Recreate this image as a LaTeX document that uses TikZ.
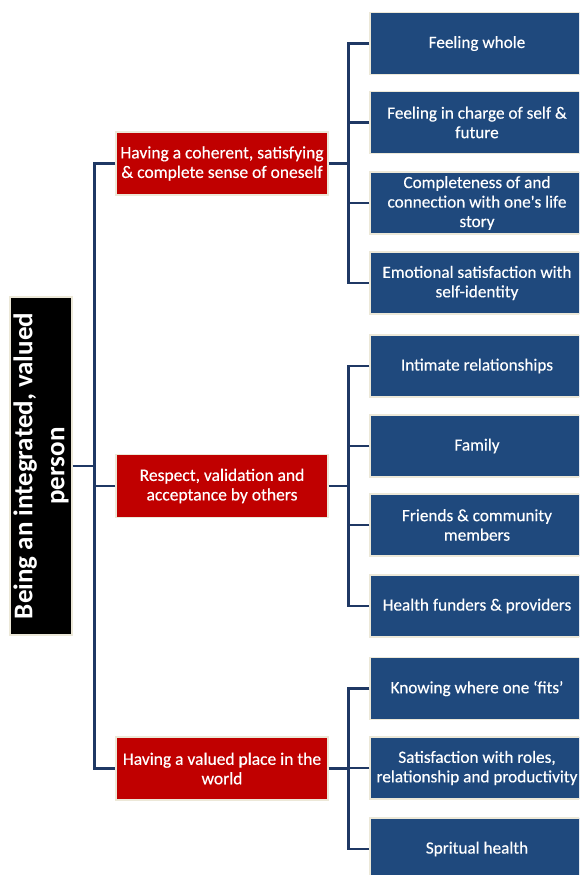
\documentclass[tikz,border=0pt]{standalone}
\usepackage{fontspec}
\setmainfont{Carlito}
\newfontfamily\boxfont{Carlito}[FakeBold=0.35]
\definecolor{boxblue}{RGB}{31,73,125}
\definecolor{boxred}{RGB}{192,0,0}
\definecolor{rim}{RGB}{236,232,216}
\definecolor{conncol}{RGB}{31,56,100}
\begin{document}
\begin{tikzpicture}[x=1pt,y=-1pt,
  base/.style={draw=rim, line width=1.2pt, text=white, align=center, inner sep=2pt},
  rootbox/.style={base, fill=black, rotate=90, minimum width=338pt, minimum height=62pt,
    font=\fontsize{27}{32}\selectfont\bfseries},
  redbox/.style={base, fill=boxred, minimum width=212pt, minimum height=63pt,
    font=\boxfont\fontsize{17.5}{19.5}\selectfont},
  bluebox/.style={base, fill=boxblue, minimum width=214pt, minimum height=62pt,
    font=\boxfont\fontsize{17.2}{19.5}\selectfont},
  conn/.style={draw=conncol, line width=2.2pt}]
\path[use as bounding box] (0,0) rectangle (579,875);
\clip (0,0) rectangle (579,875);

\node[rootbox] (root) at (41,466) {Being an integrated, valued\\person};

\node[redbox] (r1) at (222,163.5) {Having a coherent, satisfying\\\& complete sense of oneself};
\node[redbox] (r2) at (222,486) {Respect, validation and\\acceptance by others};
\node[redbox] (r3) at (222,768.5) {Having a valued place in the\\world};

\node[bluebox] (b1) at (477,43.5) {Feeling whole};
\node[bluebox] (b2) at (477,122.5) {Feeling in charge of self \&\\future};
\node[bluebox] (b3) at (477,203) {Completeness of and\\connection with one\textquotesingle s life\\story};
\node[bluebox] (b4) at (477,283) {Emotional satisfaction with\\self-identity};

\node[bluebox] (b5) at (477,366) {Intimate relationships};
\node[bluebox] (b6) at (477,446) {Family};
\node[bluebox] (b7) at (477,525) {Friends \& community\\members};
\node[bluebox] (b8) at (477,606) {Health funders \& providers};

\node[bluebox] (b9) at (477,688.5) {Knowing where one ‘fits’};
\node[bluebox] (b10) at (477,768) {Satisfaction with roles,\\relationship and productivity};
\node[bluebox] (b11) at (477,849) {Spritual health};

% trunk
\draw[conn] (root.south) -- ++(23,0);
\draw[conn] (r1.west) -- ++(-21,0) |- (r3.west);
\draw[conn] (r2.west) -- ++(-21,0);

% group 1
\draw[conn] (r1.east) -- ++(21,0);
\draw[conn] (b1.west) -- ++(-21,0) |- (b4.west);
\draw[conn] (b2.west) -- ++(-21,0);
\draw[conn] (b3.west) -- ++(-21,0);

% group 2
\draw[conn] (r2.east) -- ++(21,0);
\draw[conn] (b5.west) -- ++(-21,0) |- (b8.west);
\draw[conn] (b6.west) -- ++(-21,0);
\draw[conn] (b7.west) -- ++(-21,0);

% group 3
\draw[conn] (r3.east) -- ++(21,0);
\draw[conn] (b9.west) -- ++(-21,0) |- (b11.west);
\draw[conn] (b10.west) -- ++(-21,0);
\end{tikzpicture}
\end{document}
